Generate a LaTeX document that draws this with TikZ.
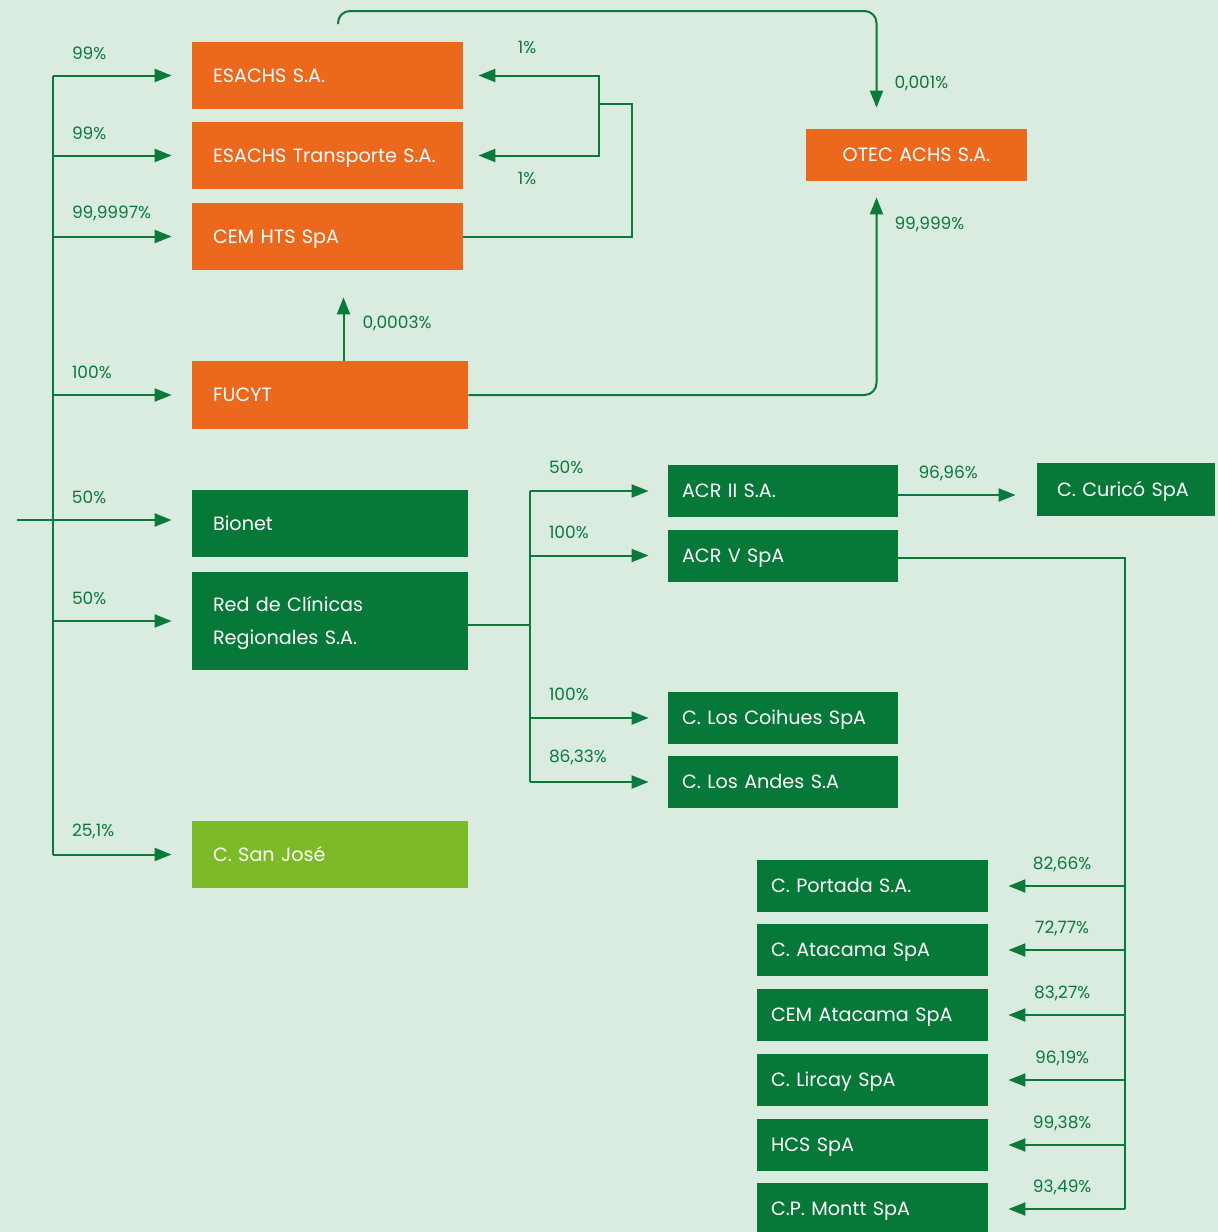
\documentclass[tikz,border=0pt]{standalone}
\usepackage{fontspec}
\setmainfont{Poppins}
\usetikzlibrary{positioning,arrows.meta}
\definecolor{bg}{HTML}{DAEBE0}
\definecolor{orng}{HTML}{EB681D}
\definecolor{dgreen}{HTML}{067838}
\definecolor{lgreen}{HTML}{7CBA27}
\definecolor{lnk}{HTML}{0A7A3B}
\begin{document}
\begin{tikzpicture}[x=0.5pt, y=-0.5pt,
    box/.style={inner xsep=10.5pt, inner ysep=0pt, align=left, text=white,
      text height=6.8pt, text depth=0pt,
      font=\fontsize{9.6pt}{16.5pt}\selectfont},
    obox/.style={box, fill=orng, minimum height=33.5pt},
    gbox/.style={box, fill=dgreen, minimum height=33.5pt},
    sbox/.style={box, fill=dgreen, inner xsep=7pt, text width=101.5pt, minimum height=26pt},
    line/.style={draw=lnk, line width=1pt},
    arr/.style={line, -{Triangle[length=8.5pt, width=6.5pt]}},
    pct/.style={text=lnk, inner sep=0pt, font=\fontsize{8.5pt}{10pt}\selectfont}
    ]
    \fill[bg] (0,0) rectangle (1218,1232);
    \useasboundingbox (0,0) rectangle (1218,1232);

    % boxes
    \node[obox, text width=114.5pt] (esachs) at (327.5,75.5) {ESACHS S.A.};
    \node[obox, text width=114.5pt] (transporte) at (327.5,155.5) {ESACHS Transporte S.A.};
    \node[obox, text width=114.5pt] (cemhts) at (327.5,236.5) {CEM HTS SpA};
    \node[obox, text width=117pt, minimum height=34pt] (fucyt) at (330,395) {FUCYT};
    \node[obox, align=center, text width=89.5pt, minimum height=26pt] (otec) at (916.5,155) {OTEC ACHS S.A.};
    \node[gbox, text width=117pt] (bionet) at (330,523.5) {Bionet};
    \node[gbox, text width=117pt, minimum height=49pt, text depth=16.5pt] (red) at (330,621) {Red de Clínicas\\Regionales S.A.};
    \node[gbox, fill=lgreen, text width=117pt] (sanjose) at (330,854.5) {C. San José};

    \node[sbox, text width=101pt] (acr2) at (783,491) {ACR II S.A.};
    \node[sbox, text width=101pt] (acr5) at (783,555.5) {ACR V SpA};
    \node[sbox, text width=101pt] (coihues) at (783,718) {C. Los Coihues SpA};
    \node[sbox, text width=101pt] (andes) at (783,782) {C. Los Andes S.A};
    \node[sbox, inner xsep=10pt, text width=69pt, minimum height=26.5pt] (curico) at (1126,489.5) {C. Curicó SpA};

    \node[sbox] (portada) at (872.5,886) {C. Portada S.A.};
    \node[sbox] (atacama) at (872.5,950) {C. Atacama SpA};
    \node[sbox] (cematacama) at (872.5,1015) {CEM Atacama SpA};
    \node[sbox] (lircay) at (872.5,1080) {C. Lircay SpA};
    \node[sbox] (hcs) at (872.5,1145) {HCS SpA};
    \node[sbox] (montt) at (872.5,1209) {C.P. Montt SpA};

    % left trunk
    \coordinate (trunk) at (53,0);
    \coordinate (entry) at (17,520);
    \draw[line] (trunk |- esachs.west) -- (trunk |- sanjose.west);
    \draw[arr, shorten >=10pt] (trunk |- esachs.west) -- (esachs.west)
      node[pct, pos=0, above right=7.5pt and 9pt] {99\%};
    \draw[arr, shorten >=10pt] (trunk |- transporte.west) -- (transporte.west)
      node[pct, pos=0, above right=7.5pt and 9pt] {99\%};
    \draw[arr, shorten >=10pt] (trunk |- cemhts.west) -- (cemhts.west)
      node[pct, pos=0, above right=7.5pt and 9pt] {99,9997\%};
    \draw[arr, shorten >=10pt] (trunk |- fucyt.west) -- (fucyt.west)
      node[pct, pos=0, above right=7.5pt and 9pt] {100\%};
    \draw[arr, shorten >=10pt] (entry) -- (entry -| bionet.west)
      node[pct, pos=0.206, above right=7.5pt and 9pt] {50\%};
    \draw[arr, shorten >=10pt] (trunk |- red.west) -- (red.west)
      node[pct, pos=0, above right=7.5pt and 9pt] {50\%};
    \draw[arr, shorten >=10pt] (trunk |- sanjose.west) -- (sanjose.west)
      node[pct, pos=0, above right=7.5pt and 9pt] {25,1\%};

    % 1% loop
    \coordinate (onepct) at (599,104);
    \draw[line] (cemhts.east) -| (632,104) -- (onepct);
    \draw[arr, shorten >=7.5pt] (onepct) |- (esachs.east)
      node[pct, pos=0.765, above=10.5pt] {1\%};
    \draw[arr, shorten >=7.5pt] (onepct) |- (transporte.east)
      node[pct, pos=0.765, below=8pt] {1\%};

    % FUCYT
    \draw[arr, shorten >=13.5pt] ([xshift=6.75pt]fucyt.north) -- ([xshift=6.75pt]fucyt.north |- cemhts.south)
      node[pct, pos=0.41, right=9pt] {0,0003\%};
    \draw[arr, rounded corners=6pt, shorten >=8pt] (fucyt.east) -| ([xshift=-20pt]otec.south)
      node[pct, pos=0.9, right=8.5pt] {99,999\%};
    \coordinate (esachstop) at (338,24);
    \draw[arr, rounded corners=6pt, shorten >=10.5pt] (esachstop) -- (338,11) -| ([xshift=-20pt]otec.north)
      node[pct, pos=0.81, right=8.5pt] {0,001\%};

    % Red de Clinicas
    \coordinate (redsplit) at (530,0);
    \draw[line] ([yshift=-2pt]red.east) -- ([yshift=-2pt]red.east -| redsplit);
    \draw[line] (redsplit |- acr2.west) -- (redsplit |- andes.west);
    \draw[arr, shorten >=9.5pt] (redsplit |- acr2.west) -- (acr2.west)
      node[pct, pos=0, above right=8pt and 9pt] {50\%};
    \draw[arr, shorten >=9.5pt] (redsplit |- acr5.west) -- (acr5.west)
      node[pct, pos=0, above right=8pt and 9pt] {100\%};
    \draw[arr, shorten >=9.5pt] (redsplit |- coihues.west) -- (coihues.west)
      node[pct, pos=0, above right=8pt and 9pt] {100\%};
    \draw[arr, shorten >=9.5pt] (redsplit |- andes.west) -- (andes.west)
      node[pct, pos=0, above right=8pt and 9pt] {86,33\%};
    \draw[arr, shorten >=10.5pt] ([yshift=-2pt]acr2.east) -- ([yshift=-2pt]acr2.east -| curico.west)
      node[pct, pos=0.36, above=6.5pt] {96,96\%};

    % ACR V
    \coordinate (rbus) at (1125,0);
    \draw[line] ([yshift=-1.25pt]acr5.east) -| (rbus |- montt.east);
    \draw[arr, shorten >=10pt] (rbus |- portada.east) -- (portada.east)
      node[pct, pos=0.46, above=6.5pt] {82,66\%};
    \draw[arr, shorten >=10pt] (rbus |- atacama.east) -- (atacama.east)
      node[pct, pos=0.46, above=6.5pt] {72,77\%};
    \draw[arr, shorten >=10pt] (rbus |- cematacama.east) -- (cematacama.east)
      node[pct, pos=0.46, above=6.5pt] {83,27\%};
    \draw[arr, shorten >=10pt] (rbus |- lircay.east) -- (lircay.east)
      node[pct, pos=0.46, above=6.5pt] {96,19\%};
    \draw[arr, shorten >=10pt] (rbus |- hcs.east) -- (hcs.east)
      node[pct, pos=0.46, above=6.5pt] {99,38\%};
    \draw[arr, shorten >=10pt] (rbus |- montt.east) -- (montt.east)
      node[pct, pos=0.46, above=6.5pt] {93,49\%};
  \end{tikzpicture}
\end{document}
